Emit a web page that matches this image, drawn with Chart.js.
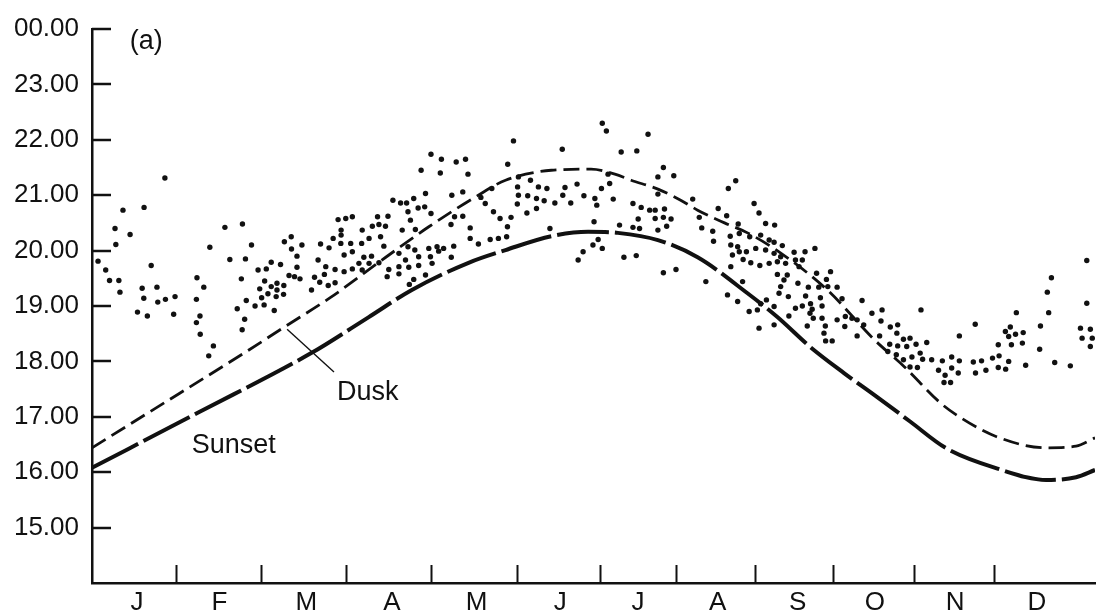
<!DOCTYPE html>
<html>
<head>
<meta charset="utf-8">
<script src="https://cdn.jsdelivr.net/npm/chart.js@4.4.1/dist/chart.umd.min.js"></script>
<style>
  html, body { margin: 0; padding: 0; background: #fff; }
  canvas { display: block; }
</style>
</head>
<body>
<canvas id="chart" width="1099" height="615"></canvas>
<script>
// x = day of year, y = clock hour
const monthLabels = ["J","F","M","A","M","J","J","A","S","O","N","D"];
const monthMid = [16.4, 46.5, 78.2, 109.4, 140.3, 170.9, 199.2, 228.3, 257.5, 285.7, 315.0, 344.8];
const monthEdges = [30.5, 61.8, 92.7, 123.6, 155.2, 185.4, 213.0, 242.1, 270.4, 299.9, 329.3];

const yTicks = [15, 16, 17, 18, 19, 20, 21, 22, 23, 24];
const yTickLabels = ["15.00","16.00","17.00","18.00","19.00","20.00","21.00","22.00","23.00","00.00"];

// Dusk and sunset curves
const duskDay  = [0, 21.1, 54.5, 70.2, 87.2, 107.2, 122.9, 140.0, 150.9, 167.6, 182.1, 190.8, 196.7, 206.5, 214.8, 221.0, 230.8, 239.2, 251.2, 268.3, 285.5, 296.5, 309.6, 316.5, 330.1, 348.2, 359.1, 366.0];
const duskHour = [16.44, 17.09, 18.12, 18.62, 19.16, 19.88, 20.43, 20.97, 21.27, 21.45, 21.47, 21.38, 21.27, 21.11, 20.91, 20.73, 20.50, 20.32, 19.96, 19.29, 18.39, 17.90, 17.25, 17.00, 16.64, 16.44, 16.47, 16.62];

const sunsetDay  = [0, 39.3, 80.0, 101.0, 116.7, 137.4, 150.9, 167.6, 181.0, 191.9, 206.5, 221.0, 239.2, 250.1, 262.1, 274.4, 286.4, 298.4, 311.8, 330.1, 348.2, 359.1, 366.0];
const sunsetHour = [16.08, 17.09, 18.15, 18.80, 19.29, 19.78, 20.01, 20.26, 20.34, 20.32, 20.19, 19.88, 19.23, 18.80, 18.26, 17.79, 17.36, 16.92, 16.43, 16.07, 15.86, 15.91, 16.04];

// observations [day, hour]
const dotsJanMar = [[26.6,21.31],[11.3,20.73],[19.0,20.78],[8.4,20.40],[13.9,20.29],[8.7,20.11],[2.2,19.81],[5.0,19.65],[6.4,19.46],[9.8,19.46],[10.2,19.25],[21.6,19.73],[18.3,19.32],[23.7,19.34],[18.9,19.14],[24.0,19.07],[26.8,19.12],[30.3,19.17],[16.6,18.89],[20.2,18.82],[29.8,18.85],[48.5,20.42],[54.9,20.48],[43.0,20.06],[58.2,20.10],[50.3,19.84],[56.0,19.85],[38.3,19.51],[40.8,19.34],[38.1,19.12],[39.4,18.82],[38.1,18.70],[39.5,18.49],[44.3,18.28],[42.6,18.10],[54.5,19.49],[53.0,18.95],[56.3,19.10],[55.7,18.76],[54.8,18.57],[60.6,19.65],[63.6,19.67],[65.4,19.79],[68.8,19.75],[70.2,20.16],[72.7,20.25],[72.8,20.03],[76.6,20.10],[74.8,19.90],[74.8,19.70],[71.9,19.55],[73.9,19.53],[75.9,19.49],[63.0,19.45],[65.4,19.35],[67.5,19.41],[70.0,19.37],[61.2,19.31],[64.2,19.22],[67.5,19.29],[61.9,19.15],[67.2,19.17],[69.9,19.21],[59.5,19.00],[62.8,19.02],[66.5,18.92],[80.1,19.29],[83.4,20.12],[82.5,19.83],[81.2,19.52],[83.1,19.43],[86.2,19.37],[84.8,19.57]];

const dotsAprMay = [[153.8,21.98],[123.7,21.74],[127.5,21.65],[132.9,21.60],[136.3,21.65],[120.1,21.45],[127.1,21.40],[137.2,21.38],[151.7,21.56],[155.6,21.33],[160.0,21.27],[121.7,21.03],[131.3,21.00],[135.3,21.06],[145.9,21.12],[109.8,20.91],[112.6,20.86],[114.8,20.86],[117.4,20.94],[115.3,20.70],[119.0,20.77],[121.4,20.79],[123.7,20.67],[141.9,20.96],[143.5,20.85],[155.3,21.15],[155.6,21.00],[159.0,20.99],[162.9,21.15],[166.0,21.12],[162.2,20.94],[165.0,20.90],[155.2,20.84],[158.7,20.68],[162.2,20.76],[89.8,20.56],[92.6,20.58],[95.0,20.61],[104.2,20.61],[108.0,20.62],[104.7,20.47],[107.1,20.44],[98.6,20.37],[102.3,20.44],[116.2,20.55],[113.2,20.37],[118.0,20.38],[132.3,20.61],[135.3,20.62],[131.0,20.47],[138.0,20.41],[146.5,20.70],[148.9,20.58],[152.9,20.60],[151.6,20.43],[90.9,20.37],[90.9,20.28],[88.0,20.22],[86.5,20.05],[90.8,20.13],[94.4,20.13],[98.4,20.13],[101.1,20.22],[105.3,20.25],[92.0,19.92],[95.0,19.98],[99.2,19.88],[102.0,19.90],[97.4,19.77],[101.1,19.77],[104.7,19.78],[106.5,20.08],[112.0,19.95],[115.3,20.07],[117.8,20.01],[122.9,20.04],[125.9,20.07],[128.3,20.04],[119.2,19.89],[123.5,19.89],[126.5,19.99],[131.1,19.88],[132.0,20.08],[114.4,19.83],[119.2,19.73],[124.1,19.77],[112.0,19.71],[115.6,19.70],[108.3,19.66],[85.3,19.71],[88.7,19.66],[88.7,19.42],[92.0,19.62],[95.0,19.67],[98.6,19.65],[107.7,19.53],[112.0,19.58],[121.7,19.56],[117.4,19.48],[115.8,19.39],[145.3,20.20],[148.3,20.22],[151.3,20.25],[141.0,20.12],[138.0,20.22],[167.1,20.40]];

const dotsJunAug = [[186.2,22.30],[187.7,22.16],[202.9,22.10],[171.6,21.83],[193.1,21.78],[198.8,21.80],[208.5,21.50],[206.5,21.33],[212.3,21.35],[188.9,21.21],[188.3,21.38],[172.6,21.14],[177.0,21.20],[185.9,21.12],[171.8,21.00],[179.5,20.99],[183.5,20.94],[190.2,20.93],[168.9,20.86],[174.7,20.86],[184.2,20.82],[206.5,21.02],[219.2,20.93],[234.9,21.26],[232.2,21.12],[197.4,20.85],[200.4,20.78],[203.5,20.73],[205.5,20.73],[208.9,20.75],[199.3,20.57],[205.5,20.58],[208.5,20.60],[211.3,20.57],[183.2,20.52],[192.5,20.46],[197.4,20.42],[199.8,20.40],[206.5,20.37],[209.7,20.44],[228.5,20.76],[231.6,20.63],[221.6,20.60],[222.5,20.41],[226.5,20.35],[226.8,20.17],[235.8,20.48],[241.6,20.85],[243.4,20.68],[245.8,20.49],[249.1,20.46],[232.9,20.26],[236.2,20.31],[240.0,20.25],[244.0,20.28],[247.1,20.19],[248.9,20.15],[251.9,20.09],[233.1,20.10],[235.6,20.07],[236.2,19.98],[238.8,19.98],[242.2,20.04],[245.8,20.01],[248.9,19.95],[233.7,19.92],[240.4,19.78],[243.7,19.73],[247.1,19.77],[233.1,19.71],[237.6,19.84],[251.3,19.89],[253.1,19.77],[250.1,19.57],[252.5,19.47],[250.7,19.23],[246.1,19.11],[248.9,18.99],[239.8,18.90],[242.8,18.93],[244.0,19.04],[231.9,19.20],[235.6,19.08],[237.4,19.44],[224.0,19.44],[177.4,19.83],[179.2,19.98],[182.8,20.10],[186.2,20.04],[184.7,20.20],[194.1,19.88],[198.6,19.91],[208.5,19.60],[213.1,19.66],[243.4,18.60],[248.9,18.66]];

const dotsSepDec = [[256.2,19.97],[260.2,19.98],[263.8,20.04],[250.1,19.80],[256.7,19.83],[259.2,19.83],[258.0,19.71],[253.7,19.56],[257.6,19.41],[261.4,19.34],[264.4,19.59],[269.5,19.62],[268.0,19.48],[265.2,19.34],[268.5,19.35],[271.9,19.34],[251.3,19.35],[254.1,19.17],[260.4,19.18],[265.8,19.15],[262.2,19.04],[259.2,19.00],[256.7,18.96],[254.3,18.82],[262.8,18.94],[266.4,19.00],[273.7,19.13],[281.0,19.10],[262.0,18.87],[263.2,18.78],[266.4,18.78],[271.9,18.75],[274.9,18.81],[277.3,18.78],[279.2,18.75],[284.6,18.87],[288.3,18.93],[302.5,18.93],[261.0,18.64],[267.6,18.64],[274.7,18.63],[281.6,18.66],[287.9,18.73],[291.3,18.62],[294.0,18.66],[267.1,18.51],[279.2,18.46],[287.4,18.46],[267.7,18.37],[270.1,18.37],[293.7,18.51],[296.1,18.40],[298.5,18.42],[297.3,18.27],[300.7,18.31],[304.6,18.34],[291.1,18.31],[294.0,18.28],[290.4,18.18],[293.5,18.12],[296.1,18.03],[299.2,18.08],[302.2,18.15],[303.1,18.04],[298.5,17.90],[301.2,17.89],[306.4,18.03],[310.3,18.01],[313.7,18.08],[316.5,18.01],[308.9,17.84],[311.3,17.75],[313.7,17.88],[316.1,17.79],[310.9,17.62],[313.3,17.62],[316.5,18.46],[322.3,18.67],[321.6,17.99],[324.6,18.01],[322.4,17.79],[326.2,17.84],[328.6,18.06],[331.0,18.10],[330.7,18.30],[330.7,17.89],[333.4,17.86],[334.5,18.00],[333.3,18.54],[335.1,18.62],[334.5,18.45],[337.0,18.49],[335.5,18.30],[339.8,18.52],[339.5,18.33],[337.3,18.88],[340.7,17.93],[346.1,18.64],[345.8,18.22],[349.1,18.88],[348.6,19.25],[350.1,19.51],[351.3,17.98],[357.0,17.92],[363.0,19.82],[363.0,19.05],[360.7,18.60],[364.3,18.58],[361.3,18.42],[365.0,18.42],[364.3,18.27]];

const FONT = "'Liberation Sans', Arial, Helvetica, sans-serif";
const INK = "#111";

const toXY = (xs, ys) => xs.map((x, i) => ({ x: x, y: ys[i] }));
const dots = [...dotsJanMar, ...dotsAprMay, ...dotsJunAug, ...dotsSepDec].map(p => ({ x: p[0], y: p[1] }));

// in-figure text, placed in data units
const notes = [
  { text: "(a)", x: 13.8, y: 23.64 },
  { text: "Dusk", x: 89.4, y: 17.30 },
  { text: "Sunset", x: 36.4, y: 16.35 }
];
const leader = { x1: 71.2, y1: 18.58, x2: 88.3, y2: 17.81 };

// inward tick marks, notes and the Dusk pointer
const overlay = {
  id: "overlay",
  afterDraw(chart) {
    const { ctx, chartArea } = chart;
    const x = chart.scales.x, y = chart.scales.y;
    ctx.save();
    ctx.strokeStyle = INK;
    ctx.lineWidth = 2;
    monthEdges.forEach(d => {
      const px = Math.round(x.getPixelForValue(d)) + 0.5;
      ctx.beginPath();
      ctx.moveTo(px, chartArea.bottom);
      ctx.lineTo(px, chartArea.bottom - 18);
      ctx.stroke();
    });
    ctx.lineWidth = 2.5;
    yTicks.forEach(h => {
      const py = Math.round(y.getPixelForValue(h));
      ctx.beginPath();
      ctx.moveTo(chartArea.left, py);
      ctx.lineTo(chartArea.left + 19, py);
      ctx.stroke();
    });

    ctx.lineWidth = 1.4;
    ctx.beginPath();
    ctx.moveTo(x.getPixelForValue(leader.x1), y.getPixelForValue(leader.y1));
    ctx.lineTo(x.getPixelForValue(leader.x2), y.getPixelForValue(leader.y2));
    ctx.stroke();

    ctx.fillStyle = INK;
    ctx.font = "27px " + FONT;
    ctx.textAlign = "left";
    ctx.textBaseline = "alphabetic";
    notes.forEach(n => {
      ctx.fillText(n.text, x.getPixelForValue(n.x), y.getPixelForValue(n.y));
    });
    ctx.restore();
  }
};

new Chart(document.getElementById("chart"), {
  type: "scatter",
  data: {
    datasets: [
      {
        label: "Observations",
        data: dots,
        pointRadius: 2.7,
        pointBackgroundColor: INK,
        pointBorderWidth: 0,
        showLine: false
      },
      {
        label: "Dusk",
        data: toXY(duskDay, duskHour),
        showLine: true,
        borderColor: INK,
        borderWidth: 2.8,
        borderDash: [16, 7],
        pointRadius: 0,
        cubicInterpolationMode: "monotone"
      },
      {
        label: "Sunset",
        data: toXY(sunsetDay, sunsetHour),
        showLine: true,
        borderColor: INK,
        borderWidth: 4,
        borderDash: [52, 6],
        pointRadius: 0,
        cubicInterpolationMode: "monotone"
      }
    ]
  },
  options: {
    responsive: false,
    animation: false,
    layout: { padding: { top: 29, right: 0, bottom: 0, left: 0 } },
    plugins: { legend: { display: false }, tooltip: { enabled: false } },
    scales: {
      x: {
        type: "linear",
        min: 0,
        max: 366,
        grid: { display: false, drawTicks: false },
        border: { display: true, color: INK, width: 2.5 },
        afterBuildTicks: s => { s.ticks = monthMid.map(v => ({ value: v })); },
        afterFit: s => { s.height = 32; },
        ticks: {
          autoSkip: false,
          maxRotation: 0,
          padding: 4,
          color: INK,
          font: { family: FONT, size: 26 },
          callback: (v, i) => monthLabels[i]
        }
      },
      y: {
        min: 14,
        max: 24,
        grid: { display: false, drawTicks: false },
        border: { display: true, color: INK, width: 2.5 },
        afterBuildTicks: s => { s.ticks = yTicks.map(v => ({ value: v })); },
        afterFit: s => { s.width = 92; },
        ticks: {
          padding: 13,
          color: INK,
          font: { family: FONT, size: 26 },
          callback: (v, i) => yTickLabels[i]
        }
      }
    }
  },
  plugins: [overlay]
});
</script>
</body>
</html>
